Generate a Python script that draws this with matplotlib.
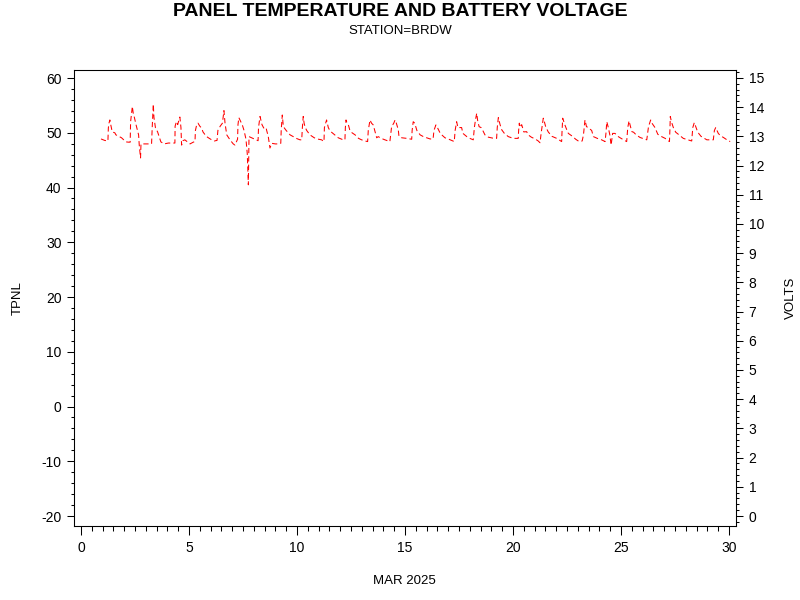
import matplotlib
matplotlib.use("Agg")
import matplotlib.pyplot as plt
from matplotlib.ticker import MultipleLocator

plt.rcParams['font.family'] = ['Liberation Sans', 'DejaVu Sans']
plt.rcParams['axes.unicode_minus'] = False

# battery voltage, day of March 2025 -> volts
DAYS = [
    0.93, 1.10, 1.25, 1.27, 1.30, 1.34, 1.38, 1.45, 1.57, 1.62, 1.75, 1.88,
    2.08, 2.20, 2.28, 2.30, 2.36, 2.38, 2.42, 2.48, 2.55, 2.62, 2.67, 2.70, 2.76, 2.78, 2.95, 3.20,
    3.27, 3.30, 3.35, 3.38, 3.45, 3.55, 3.70, 3.85, 4.05, 4.20,
    4.27, 4.35, 4.36, 4.42, 4.48, 4.55, 4.58, 4.63, 4.66, 4.72, 4.81, 4.95,
    5.05, 5.20, 5.28, 5.30, 5.36, 5.42, 5.50, 5.59, 5.65, 5.80, 5.90, 6.05,
    6.17, 6.30, 6.34, 6.45, 6.55, 6.62, 6.67, 6.75, 6.90, 7.05,
    7.13, 7.25, 7.27, 7.31, 7.40, 7.47, 7.55, 7.64, 7.70, 7.75, 7.78, 7.90,
    8.05, 8.20, 8.22, 8.29, 8.33, 8.38, 8.45, 8.52, 8.58, 8.67, 8.75, 8.83, 9.00, 9.15, 9.25,
    9.27, 9.32, 9.37, 9.50, 9.60, 9.68, 9.85, 10.00,
    10.14, 10.22, 10.25, 10.29, 10.33, 10.37, 10.45, 10.60, 10.80, 11.00, 11.14, 11.25,
    11.27, 11.37, 11.45, 11.52, 11.60, 11.75, 11.91, 12.14,
    12.22, 12.24, 12.27, 12.32, 12.38, 12.45, 12.55, 12.69, 12.85, 12.99, 13.15, 13.27,
    13.30, 13.38, 13.45, 13.53, 13.60, 13.69, 13.76, 13.90, 14.07, 14.30,
    14.38, 14.48, 14.54, 14.60, 14.69, 14.72, 14.85, 15.08, 15.31,
    15.33, 15.38, 15.45, 15.51, 15.55, 15.70, 15.85, 16.16,
    16.30, 16.34, 16.43, 16.50, 16.62, 16.70, 16.85, 17.00, 17.15, 17.28,
    17.32, 17.39, 17.45, 17.55, 17.62, 17.68, 17.86, 18.00, 18.16,
    18.21, 18.27, 18.32, 18.36, 18.43, 18.52, 18.60, 18.70, 18.86, 19.05, 19.24,
    19.27, 19.32, 19.40, 19.48, 19.60, 19.78, 20.01, 20.24,
    20.26, 20.29, 20.34, 20.40, 20.50, 20.63, 20.70, 20.85, 21.02, 21.15, 21.25,
    21.30, 21.40, 21.45, 21.51, 21.63, 21.80, 22.02, 22.25,
    22.27, 22.30, 22.35, 22.40, 22.50, 22.56, 22.75, 22.90, 23.06,
    23.20, 23.26, 23.33, 23.40, 23.49, 23.56, 23.64, 23.72, 23.90, 24.10, 24.26,
    24.30, 24.34, 24.41, 24.48, 24.54, 24.61, 24.72, 24.85, 25.00, 25.26,
    25.31, 25.37, 25.43, 25.50, 25.58, 25.70, 25.88, 26.19,
    26.27, 26.37, 26.43, 26.57, 26.70, 26.85, 27.04, 27.24,
    27.26, 27.28, 27.33, 27.42, 27.53, 27.65, 27.88, 28.10, 28.27,
    28.32, 28.39, 28.45, 28.55, 28.70, 28.97, 29.27,
    29.32, 29.38, 29.50, 29.60, 29.74, 29.90, 30.05,
]
VOLTS = [
    12.91, 12.86, 12.84, 13.29, 13.45, 13.56, 13.40, 13.15, 13.12, 13.05, 13.00, 12.95,
    12.81, 12.80, 12.80, 13.50, 13.90, 14.02, 13.80, 13.63, 13.40, 13.20, 13.05, 12.70, 12.26, 12.74, 12.74, 12.74,
    12.74, 13.30, 14.10, 13.65, 13.29, 13.15, 12.81, 12.74, 12.77, 12.77,
    12.77, 12.77, 13.35, 13.50, 13.40, 13.60, 13.66, 13.30, 12.70, 12.85, 12.88, 12.80,
    12.74, 12.80, 12.82, 13.20, 13.40, 13.45, 13.35, 13.28, 13.15, 13.00, 12.95, 12.88,
    12.84, 12.86, 13.20, 13.35, 13.45, 13.88, 13.45, 13.05, 12.88, 12.74,
    12.70, 12.90, 13.40, 13.64, 13.50, 13.39, 13.20, 12.90, 12.40, 11.34, 12.99, 12.95,
    12.90, 12.85, 13.30, 13.68, 13.55, 13.40, 13.30, 13.22, 13.25, 13.00, 12.60, 12.76, 12.74, 12.74, 12.76,
    13.20, 13.73, 13.33, 13.20, 13.12, 13.05, 12.98, 12.92,
    12.88, 12.88, 13.30, 13.68, 13.45, 13.33, 13.20, 13.05, 12.95, 12.90, 12.88, 12.82,
    13.30, 13.56, 13.30, 13.20, 13.14, 13.05, 12.95, 12.88,
    12.88, 13.30, 13.56, 13.45, 13.39, 13.20, 13.12, 13.05, 12.93, 12.88, 12.84, 12.82,
    13.20, 13.56, 13.45, 13.39, 13.20, 12.95, 12.99, 12.93, 12.88, 12.82,
    13.33, 13.45, 13.56, 13.45, 13.22, 13.00, 12.95, 12.93, 12.90,
    13.20, 13.50, 13.45, 13.30, 13.20, 13.05, 12.99, 12.91,
    12.91, 13.20, 13.39, 13.30, 13.12, 13.05, 12.95, 12.91, 12.86, 12.82,
    13.20, 13.50, 13.30, 13.30, 13.30, 13.10, 12.99, 12.93, 12.88,
    13.30, 13.60, 13.79, 13.55, 13.33, 13.30, 13.20, 13.05, 12.97, 12.94, 12.93,
    13.30, 13.64, 13.40, 13.22, 13.10, 12.99, 12.93, 12.93,
    13.20, 13.45, 13.30, 13.40, 13.15, 13.16, 13.05, 12.97, 12.91, 12.85, 12.78,
    13.10, 13.62, 13.50, 13.33, 13.15, 13.00, 12.93, 12.82,
    13.20, 13.62, 13.50, 13.39, 13.20, 13.10, 13.00, 12.90, 12.82,
    12.84, 13.05, 13.56, 13.33, 13.30, 13.25, 13.20, 12.99, 12.93, 12.88, 12.82,
    13.10, 13.50, 13.30, 13.05, 12.70, 13.10, 13.10, 13.00, 12.93, 12.82,
    13.30, 13.53, 13.35, 13.16, 13.14, 13.05, 12.96, 12.88,
    13.33, 13.56, 13.45, 13.30, 13.07, 13.00, 12.93, 12.82,
    13.20, 13.68, 13.50, 13.30, 13.14, 13.07, 12.93, 12.88, 12.84,
    13.30, 13.47, 13.35, 13.14, 13.00, 12.88, 12.88,
    13.20, 13.30, 13.10, 13.02, 12.96, 12.88, 12.82,
]

X_TICKS = [0, 5, 10, 15, 20, 25, 30]
TPNL_TICKS = [-20, -10, 0, 10, 20, 30, 40, 50, 60]
VOLT_TICKS = list(range(0, 16))


def style_axis(ax):
    for sp in ax.spines.values():
        sp.set_linewidth(0.75)
    ax.tick_params(which='both', direction='out', width=0.75, labelsize=10,
                   colors='black')
    ax.tick_params(which='major', length=5, pad=4)
    ax.tick_params(which='minor', length=2.5)


def plot_chart():
    fig = plt.figure(figsize=(8, 6), dpi=100)
    ax = fig.add_axes([0.0925, 0.1233, 0.8275, 0.76])
    ax2 = ax.twinx()

    ax.set_xlim(-0.32, 30.32)
    ax.set_ylim(-21.83, 61.46)
    ax2.set_ylim(-0.343, 15.27)

    ax.set_xticks(X_TICKS)
    ax.xaxis.set_minor_locator(MultipleLocator(0.5))
    ax.set_yticks(TPNL_TICKS)
    ax.yaxis.set_minor_locator(MultipleLocator(2))
    ax2.set_yticks(VOLT_TICKS)
    ax2.yaxis.set_minor_locator(MultipleLocator(0.2))

    style_axis(ax)
    style_axis(ax2)
    ax.tick_params(axis='x', which='major', length=6.5, pad=4)
    ax.tick_params(axis='x', which='minor', length=3.5)

    ax2.plot(DAYS, VOLTS, color='red', linewidth=0.75, dashes=(5, 3))

    fig.text(0.5, 0.98, 'PANEL TEMPERATURE AND BATTERY VOLTAGE',
             ha='center', va='center', fontsize=14, fontweight='bold')
    fig.text(0.5, 0.949, 'STATION=BRDW', ha='center', va='center', fontsize=9.5)
    fig.text(0.506, 0.031, 'MAR 2025', ha='center', va='center', fontsize=9.5)
    fig.text(0.0225, 0.503, 'TPNL', ha='center', va='center', fontsize=9.5,
             rotation=90)
    fig.text(0.989, 0.503, 'VOLTS', ha='center', va='center', fontsize=9.5,
             rotation=90)

    fig.savefig('out.png', dpi=100)


if __name__ == "__main__":
    plot_chart()
